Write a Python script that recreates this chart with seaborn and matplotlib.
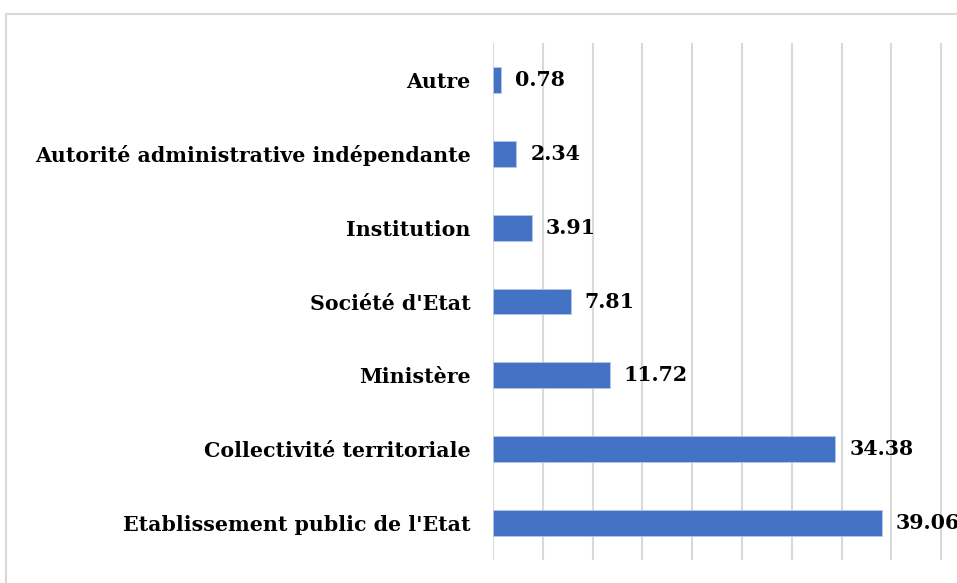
import matplotlib
matplotlib.use("Agg")
import matplotlib.pyplot as plt
import seaborn as sns
import pandas as pd

categories = ['Autre', 'Autorité administrative indépendante', 'Institution',
              "Société d'Etat", 'Ministère', 'Collectivité territoriale',
              "Etablissement public de l'Etat"]
values = [0.78, 2.34, 3.91, 7.81, 11.72, 34.38, 39.06]

sns.set_theme(style="white")
plt.rcParams['font.family'] = ['DejaVu Serif']

df = pd.DataFrame({'cat': categories, 'val': values})

fig = plt.figure(figsize=(9.57, 5.83), dpi=100)
# frame around the chart area (cropped on right and bottom like the source)
fig.patches.append(plt.Rectangle((6 / 957, -0.1), 1.2, (583 - 14) / 583 + 0.1,
                                 transform=fig.transFigure, fill=False,
                                 edgecolor='#d9d9d9', linewidth=1.5))

ax = fig.add_axes([493 / 957, (583 - 560) / 583, 498 / 957, 517 / 583])
sns.barplot(data=df, x='val', y='cat', orient='h', color='#4472C4',
            saturation=1, width=0.35, edgecolor='#b4c7e7', linewidth=0.6, ax=ax)

ax.set_xlim(0, 50)
ax.set_ylim(6.5, -0.5)
ax.set_xticks(range(0, 51, 5))
ax.xaxis.grid(True, color='#d9d9d9', linewidth=1.5)
ax.set_axisbelow(True)
ax.tick_params(axis='x', labelbottom=False, length=0)
ax.tick_params(axis='y', length=0, pad=16)
for lbl in ax.get_yticklabels():
    lbl.set_fontweight('bold')
    lbl.set_fontsize(14.8)
    lbl.set_color('black')
ax.set_xlabel('')
ax.set_ylabel('')
for s in ax.spines.values():
    s.set_visible(False)

for i, v in enumerate(values):
    ax.annotate(f'{v:.2f}', xy=(v, i), xytext=(10, 0), textcoords='offset points',
                va='center', ha='left', fontsize=14.8, fontweight='bold', color='black',
                annotation_clip=False)

fig.savefig('out.png', dpi=100)
